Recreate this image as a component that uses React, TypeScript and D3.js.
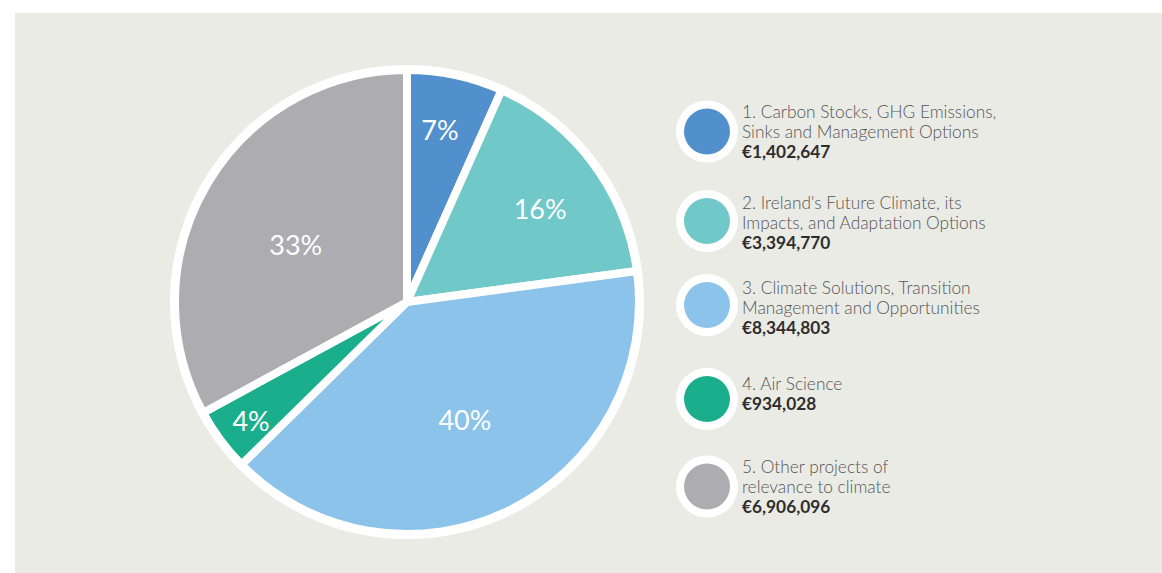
import React from 'react';
import * as d3 from 'd3';

// funding by research pillar (€)
const categories = ['1', '2', '3', '4', '5'];
const amounts = [1402647, 3394770, 8344803, 934028, 6906096];
const amountLabels = ['€1,402,647', '€3,394,770', '€8,344,803', '€934,028', '€6,906,096'];
const legendLines = [
  ['1. Carbon Stocks, GHG Emissions,', 'Sinks and Management Options'],
  ["2. Ireland's Future Climate, its", 'Impacts, and Adaptation Options'],
  ['3. Climate Solutions, Transition', 'Management and Opportunities'],
  ['4. Air Science'],
  ['5. Other projects of', 'relevance to climate'],
];
const colors = ['#5190cd', '#71c8c8', '#8bc3ea', '#1bae8d', '#adadb1'];

const W = 1162;
const H = 573;
const cx = 407;
const cy = 302;
// label placement per slice (hand nudged like the original)
const labelRadius = [175, 162, 132, 196, 125];
const labelNudgeDeg = [-1.2, 2.1, 0.1, -0.8, -3.6];
// legend layout
const legendX = 707;
const legendCy = [131.5, 221, 305, 399, 486.5];
const legendTextY = [117.5, 208.5, 293.5, 390, 472.5];

function App() {
  const pie = d3.pie<number>().sort(null).value(d => d);
  const slices = pie(amounts);
  const total = d3.sum(amounts);
  const arc = d3.arc<d3.PieArcDatum<number>>().innerRadius(0).outerRadius(232);

  return (
    <svg width={W} height={H} style={{ position: 'absolute', left: 0, top: 0 }}>
      <rect x={15} y={13} width={W - 15} height={H - 13} fill="#ebebe6" />
      <g transform={`translate(${cx},${cy})`}>
        <circle r={237} fill="#fff" />
        {slices.map((s, i) => (
          <path key={categories[i]} d={arc(s) || ''} fill={colors[i]} stroke="#fff" strokeWidth={8} strokeLinejoin="round" />
        ))}
        {slices.map((s, i) => {
          const a = (s.startAngle + s.endAngle) / 2 + (labelNudgeDeg[i] * Math.PI) / 180;
          const r = labelRadius[i];
          return (
            <text
              key={'l' + i}
              x={Math.sin(a) * r}
              y={-Math.cos(a) * r}
              dy="0.36em"
              textAnchor="middle"
              fill="#fff"
              fontFamily="Lato, 'Open Sans', sans-serif"
              fontWeight={400}
              fontSize={27}
            >
              {d3.format('.0%')(s.data / total)}
            </text>
          );
        })}
      </g>
      {categories.map((c, i) => (
        <g key={'g' + c}>
          <circle cx={legendX} cy={legendCy[i]} r={31} fill="#fff" />
          <circle cx={legendX} cy={legendCy[i]} r={23} fill={colors[i]} />
          <text fontFamily="Lato, 'Open Sans', sans-serif" fontSize={17.3}>
            {legendLines[i].map((line, j) => (
              <tspan key={j} x={742} y={legendTextY[i] + j * 20.7} fill="#555" fontWeight={300}>
                {line}
              </tspan>
            ))}
            <tspan x={742} y={legendTextY[i] + legendLines[i].length * 20.3} fill="#2e2e2e" fontWeight={700}>
              {amountLabels[i]}
            </tspan>
          </text>
        </g>
      ))}
    </svg>
  );
}

export default App;
